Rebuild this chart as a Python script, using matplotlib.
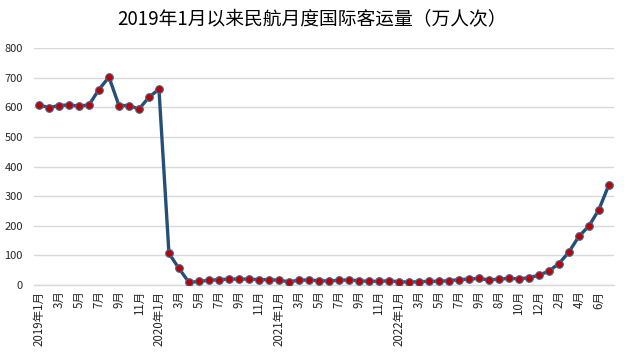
import matplotlib
matplotlib.use("Agg")
import matplotlib.pyplot as plt

plt.rcParams['font.family'] = ['Noto Sans CJK SC', 'DejaVu Sans']

# monthly international passenger volume (10k person-times)
values = [608, 599, 606, 608, 604, 608, 660, 702, 606, 606, 594, 634,
          661, 107, 56, 9, 12, 16, 18, 20, 20, 20, 18, 18,
          16, 11, 16, 17, 14.5, 13.5, 16, 17, 14.5, 12.5, 12.5, 14.5,
          11, 10, 11, 12.5, 12.5, 14.5, 18, 20, 22.5, 17, 20, 22.5,
          21, 24.5, 33, 47, 72, 111, 164, 199, 254, 338]

# labels shown on every other category
tick_labels = ['2019年1月', '3月', '5月', '7月', '9月', '11月',
               '2020年1月', '3月', '5月', '7月', '9月', '11月',
               '2021年1月', '3月', '5月', '7月', '9月', '11月',
               '2022年1月', '3月', '5月', '7月', '9月',
               '8月', '10月', '12月', '2月', '4月', '6月']

yticks = [0, 100, 200, 300, 400, 500, 600, 700, 800]

fig = plt.figure(figsize=(6.27, 3.56), dpi=100)
ax = fig.add_axes([0.0542, 0.1994, 0.9248, 0.6656])

x = list(range(len(values)))
ax.plot(x, values, color='#264f78', linewidth=2.4, marker='o',
        markersize=5.5, markerfacecolor='#c00000',
        markeredgecolor='#3d6a96', markeredgewidth=0.8, zorder=3)

ax.set_xlim(-0.5, len(values) - 0.5)
ax.set_ylim(0, 800)
ax.set_yticks(yticks)
ax.set_yticklabels([str(v) for v in yticks], fontsize=8, color='#262626')
ax.set_xticks(x[::2])
ax.set_xticklabels(tick_labels, rotation=90, fontsize=8.3, color='#262626')
ax.tick_params(axis='both', length=0)
ax.tick_params(axis='x', pad=4)
ax.tick_params(axis='y', pad=8)

ax.grid(axis='y', color='#d9d9d9', linewidth=1)
ax.set_axisbelow(True)
for s in ['top', 'right', 'left']:
    ax.spines[s].set_visible(False)
ax.spines['bottom'].set_color('#d9d9d9')
ax.spines['bottom'].set_linewidth(1)

fig.text(0.497, 0.945, '2019年1月以来民航月度国际客运量（万人次）',
         ha='center', va='center', fontsize=13.5, color='#000000')

fig.savefig('out.png', dpi=100)
